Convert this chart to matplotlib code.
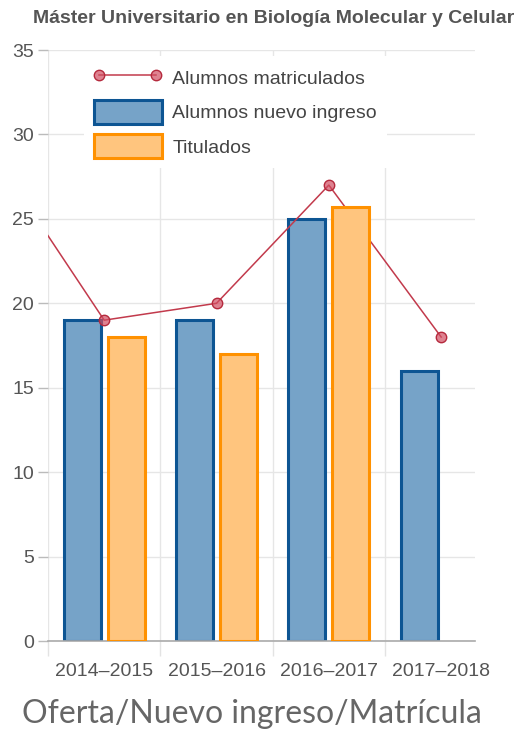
import numpy as np
import matplotlib
matplotlib.use('Agg')
import matplotlib.pyplot as plt
from matplotlib.lines import Line2D
from matplotlib.patches import Patch

cursos = ['2014–2015', '2015–2016', '2016–2017', '2017–2018']
nuevo_ingreso = [19, 19, 25, 16]
titulados = [18, 17, 25.7, None]
# la línea entra por la izquierda desde el curso anterior (recortado)
matriculados_x = [-1, 0, 1, 2, 3]
matriculados = [29, 19, 20, 27, 18]

plt.rcParams['font.family'] = ['Liberation Sans', 'DejaVu Sans']

fig = plt.figure(figsize=(5.3, 7.31), dpi=100)
ax = fig.add_axes([0.0906, 0.1231, 0.8054, 0.8085])

x = np.arange(len(cursos))
w = 0.33
off = 0.196

ax.bar(x - off, nuevo_ingreso, width=w, color='#76a3c8', edgecolor='#0d5593',
       linewidth=2.2, zorder=2)
tit_x = [xi + off for xi, v in zip(x, titulados) if v is not None]
tit_v = [v for v in titulados if v is not None]
ax.bar(tit_x, tit_v, width=w, color='#ffc57e', edgecolor='#ff9100',
       linewidth=2.2, zorder=4)

ax.plot(matriculados_x, matriculados, color='#c23a4c', linewidth=1.1,
        marker='o', markersize=7.5, markerfacecolor=(0.82, 0.3, 0.38, 0.7),
        markeredgecolor='#b52a3d', markeredgewidth=1.0, zorder=3)

ax.set_xlim(-0.5, 3.3)
ax.set_ylim(0, 35)
ax.set_yticks(range(0, 36, 5))
ax.set_xticks(x)
ax.set_xticklabels(cursos)
ax.set_xticks(np.arange(-0.5, 3.0, 1.0), minor=True)

ax.tick_params(axis='x', which='major', length=0, pad=16, labelsize=14,
               labelcolor='#555555')
ax.tick_params(axis='x', which='minor', length=11, color='#e3e3e3', width=1)
ax.tick_params(axis='y', length=7, color='#bbbbbb', width=1, pad=3,
               labelsize=14, labelcolor='#555555')

ax.grid(axis='y', color='#e6e6e6', linewidth=1, zorder=0)
ax.grid(axis='x', which='minor', color='#e6e6e6', linewidth=1, zorder=0)
ax.set_axisbelow(True)

for s in ['top', 'right', 'left']:
    ax.spines[s].set_visible(False)
ax.spines['bottom'].set_color('#aaaaaa')
ax.spines['bottom'].set_linewidth(1.2)

handles = [
    Line2D([0], [0], color='#c23a4c', linewidth=1.1, marker='o', markersize=7.5,
           markerfacecolor=(0.82, 0.3, 0.38, 0.7), markeredgecolor='#b52a3d'),
    Patch(facecolor='#76a3c8', edgecolor='#0d5593', linewidth=2.2),
    Patch(facecolor='#ffc57e', edgecolor='#ff9100', linewidth=2.2),
]
labels = ['Alumnos matriculados', 'Alumnos nuevo ingreso', 'Titulados']
leg = ax.legend(handles, labels, loc='upper left', bbox_to_anchor=(0.084, 0.99),
                borderaxespad=0, borderpad=0.5, fontsize=14, numpoints=2,
                handlelength=3.5, handleheight=1.5, handletextpad=0.55,
                labelspacing=0.55, frameon=True, fancybox=False)
leg.get_frame().set_facecolor('white')
leg.get_frame().set_edgecolor('none')
leg.get_frame().set_alpha(1)
leg.set_zorder(10)
for t in leg.get_texts():
    t.set_color('#444444')

fig.text(0.516, 0.975, 'Máster Universitario en Biología Molecular y Celular',
         ha='center', va='center', fontsize=14, fontweight='bold', color='#555555')
fig.text(0.476, 0.023, 'Oferta/Nuevo ingreso/Matrícula', ha='center', va='center',
         fontsize=23, color='#666666', family=['Lato', 'DejaVu Sans'])

fig.savefig('out.png', dpi=100)
